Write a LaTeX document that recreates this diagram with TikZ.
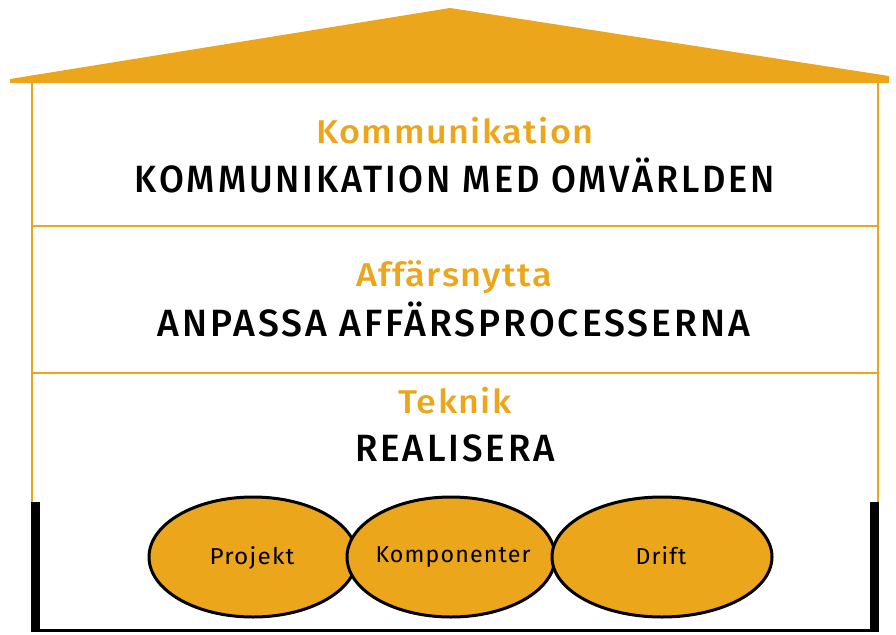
\documentclass[tikz,border=0pt]{standalone}
\usepackage{fontspec}
\setmainfont{Fira Sans}[BoldFont={Fira Sans Medium}]
\usepackage{graphicx}
\usetikzlibrary{shapes.geometric}
\definecolor{houseorange}{RGB}{235,166,28}
\newcommand\fitw[2]{\resizebox{#1}{\height}{#2}}
\begin{document}
\begin{tikzpicture}[x=1pt,y=-1pt,
  thinwall/.style={draw=houseorange,line width=1.6pt},
  thickwall/.style={draw=black,line width=9pt},
  floorline/.style={draw=black,line width=3pt},
  title/.style={anchor=base,inner sep=0pt,text=houseorange,font=\fontsize{33}{36}\selectfont\bfseries\addfontfeatures{LetterSpace=4}},
  sub/.style={anchor=base,inner sep=0pt,text=black,font=\fontsize{38}{40}\selectfont\bfseries\addfontfeatures{LetterSpace=8}},
  blob/.style={ellipse,draw=black,line width=3pt,fill=houseorange,minimum width=208pt,minimum height=120pt,inner sep=0pt},
  blobtext/.style={anchor=base,inner sep=0pt,text=black,font=\fontsize{23}{25}\selectfont\addfontfeatures{LetterSpace=5}}
]
\useasboundingbox (0,0) rectangle (896,634);
% roof
\fill[houseorange] (10,83) -- (10,79) -- (450,8) -- (889,76) -- (889,83) -- cycle;
% walls
\coordinate (lt) at (32,83);
\coordinate (lm) at (32,502);
\coordinate (rt) at (878,83);
\coordinate (rm) at (878,502);
\draw[thinwall] (lt) -- (lm);
\draw[thinwall] (rt) -- (rm);
\coordinate (d1l) at (32,226);
\coordinate (d1r) at (878,226);
\coordinate (d2l) at (32,373);
\coordinate (d2r) at (878,373);
\draw[thinwall] (d1l) -- (d1r);
\draw[thinwall] (d2l) -- (d2r);
\coordinate (bl1) at (35.5,502);
\coordinate (bl2) at (35.5,630);
\coordinate (br1) at (874,502);
\coordinate (br2) at (874,630);
\draw[thickwall] (bl1) -- (bl2);
\draw[thickwall] (br1) -- (br2);
\coordinate (fl) at (31,630);
\coordinate (fr) at (879,630);
\draw[floorline] (fl) -- (fr);
% texts
\node[title] (t1) at (455,143) {\fitw{277pt}{Kommunikation}};
\node[sub] (s1) at (455,192) {\fitw{640pt}{KOMMUNIKATION MED OMVÄRLDEN}};
\node[title] (t2) at (454,286) {\fitw{196pt}{Affärsnytta}};
\node[sub] (s2) at (454,336) {\fitw{592pt}{ANPASSA AFFÄRSPROCESSERNA}};
\node[title] (t3) at (455,413) {\fitw{113pt}{Teknik}};
\node[sub] (s3) at (455,461) {\fitw{200pt}{REALISERA}};
% ellipses
\node[blob] (e1) at (253,557) {};
\node[blob] (e2) at (451,557) {};
\node[blob,minimum width=220pt] (e3) at (662,557) {};
\node[blobtext] (p1) at (252,564) {\fitw{85pt}{Projekt}};
\node[blobtext] (p2) at (453,562) {\fitw{155pt}{Komponenter}};
\node[blobtext] (p3) at (661,564) {\fitw{51pt}{Drift}};
\end{tikzpicture}
\end{document}
